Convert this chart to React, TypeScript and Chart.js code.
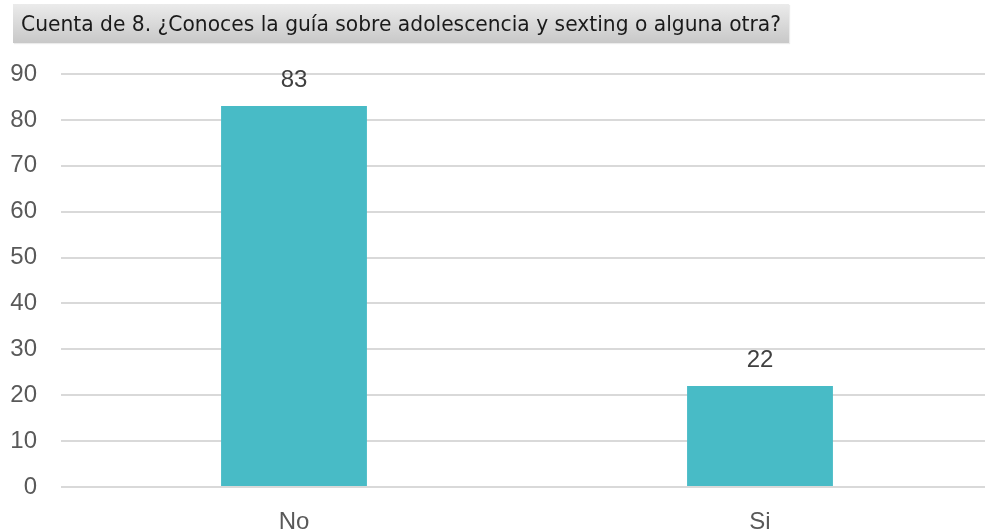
import React, { useEffect, useRef } from "react";
import { Chart, registerables } from "chart.js";

Chart.register(...registerables);

const TITLE = "Cuenta de 8. ¿Conoces la guía sobre adolescencia y sexting o alguna otra?";
const categories = ["No", "Si"];
const values = [83, 22];
const yTicks = [0, 10, 20, 30, 40, 50, 60, 70, 80, 90];

const BAR_COLOR = "#48BBC6";
const TEXT_COLOR = "#595959";
const FONT = "'Liberation Sans', Arial, sans-serif";
const TITLE_FONT = "'DejaVu Sans', Tahoma, sans-serif";
const TITLE_SIZE = 22;
const TITLE_WIDTH = 760;

const valueLabels = {
  id: "valueLabels",
  afterDatasetsDraw(chart: any) {
    const ctx = chart.ctx;
    const meta = chart.getDatasetMeta(0);
    ctx.save();
    ctx.fillStyle = "#404040";
    ctx.font = `24px ${FONT}`;
    ctx.textAlign = "center";
    ctx.textBaseline = "middle";
    meta.data.forEach((bar: any, i: number) => {
      ctx.fillText(String(chart.data.datasets[0].data[i]), bar.x, bar.y - 26);
    });
    ctx.restore();
  },
};

function measureTitle(): number {
  const c = document.createElement("canvas");
  const ctx = c.getContext("2d")!;
  ctx.font = `${TITLE_SIZE}px ${TITLE_FONT}`;
  return ctx.measureText(TITLE).width;
}

export default function App() {
  const ref = useRef<HTMLCanvasElement>(null);
  const [scale, setScale] = React.useState(1);

  useEffect(() => {
    const w = measureTitle();
    if (w > 0) setScale(TITLE_WIDTH / w);
    const chart = new Chart(ref.current!, {
      type: "bar",
      data: {
        labels: categories,
        datasets: [
          {
            data: values,
            backgroundColor: BAR_COLOR,
            barPercentage: 1,
            categoryPercentage: 0.313,
          },
        ],
      },
      options: {
        animation: false,
        responsive: false,
        maintainAspectRatio: false,
        layout: { padding: { top: 74, left: 0, right: 0, bottom: 0 } },
        plugins: {
          legend: { display: false },
          tooltip: { enabled: false },
          title: { display: false },
        },
        scales: {
          x: {
            grid: { display: false },
            border: { display: false },
            ticks: {
              color: TEXT_COLOR,
              font: { family: FONT, size: 24 },
              padding: 13,
            },
            afterFit(scale: any) {
              scale.height = 44;
            },
          },
          y: {
            min: 0,
            max: 90,
            afterBuildTicks(scale: any) {
              scale.ticks = yTicks.map((v) => ({ value: v }));
            },
            grid: { color: "#d9d9d9", lineWidth: 2, drawTicks: false },
            border: { display: false },
            ticks: {
              color: TEXT_COLOR,
              font: { family: FONT, size: 24 },
              padding: 24,
            },
            afterFit(scale: any) {
              scale.width = 61;
            },
          },
        },
      },
      plugins: [valueLabels],
    });
    return () => chart.destroy();
  }, []);

  return (
    <div
      style={{
        position: "fixed",
        left: 0,
        top: 0,
        width: 985,
        height: 531,
        overflow: "hidden",
        background: "#fff",
      }}
    >
      <canvas ref={ref} width={993} height={531} style={{ position: "absolute", left: 0, top: 0 }} />
      <div
        style={{
          position: "absolute",
          left: 13,
          top: 4,
          width: 776,
          height: 39,
          background: "linear-gradient(#ebebeb, #c8c8c8)",
          boxShadow: "1px 1px 1px rgba(0,0,0,0.08)",
          overflow: "hidden",
        }}
      >
        <span
          style={{
            position: "absolute",
            left: 8,
            top: 0,
            lineHeight: "39px",
            whiteSpace: "nowrap",
            fontFamily: TITLE_FONT,
            fontSize: TITLE_SIZE,
            color: "#1a1a1a",
            transform: `scaleX(${scale})`,
            transformOrigin: "left center",
          }}
        >
          {TITLE}
        </span>
      </div>
    </div>
  );
}
